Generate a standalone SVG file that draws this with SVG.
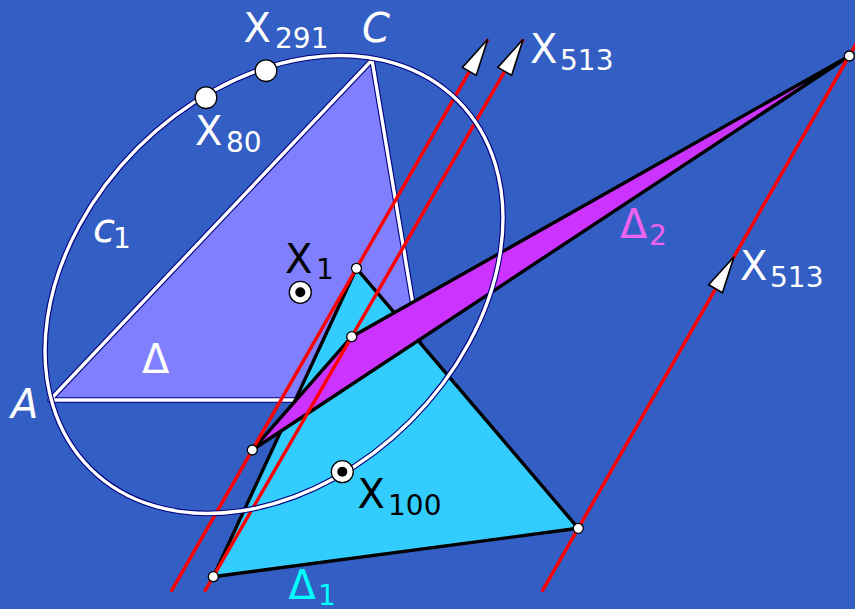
<svg xmlns="http://www.w3.org/2000/svg" width="855" height="609" viewBox="0 0 855 609">
<defs>
<style>
text{font-family:"DejaVu Sans","Liberation Sans",sans-serif;font-size:40px;fill:#fff}
.sub{font-size:28px}
.it{font-style:italic}
.dark{fill:#000}
.mag{fill:#f062f0}
.cyan{fill:#00ffff}
.navy{fill:none;stroke:#000080;stroke-width:5.6;stroke-linejoin:round}
.white{fill:none;stroke:#fff;stroke-width:3.4;stroke-linejoin:round}
.blk{stroke:#000;stroke-width:3.4;stroke-linejoin:round}
.red{stroke:#ff0000;stroke-width:3.4;fill:none}
.pt{fill:#fff;stroke:#000;stroke-width:1.3}
.ctr{fill:#000}
.arrow{fill:#fff;stroke:#000;stroke-width:1.6;stroke-linejoin:miter}
</style>
<path id="ah" d="M0,0 L-37,-8 L-37,8 Z"/>
</defs>
<rect width="855" height="609" fill="#335ec3"/>

<g id="triangle-delta">
<polygon points="50,400 372,60 429,400" fill="#8080ff" stroke="none"/>
<polygon class="navy" points="50,400 372,60 429,400"/>
<polygon class="white" points="50,400 372,60 429,400"/>
</g>

<g id="triangle-delta1">
<polygon class="blk" points="356.5,268.3 213.3,576.7 578.3,528.3" fill="#33ccff"/>
</g>

<g id="triangle-delta2">
<polygon class="blk" points="252.3,450 351.7,336.7 849.3,56" fill="#cc33ff"/>
</g>

<g id="connectors">
<line class="red" x1="171" y1="591.7" x2="487.8" y2="39.3"/>
<line class="red" x1="204.6" y1="591.7" x2="523.2" y2="39.3"/>
<line class="red" x1="541.9" y1="591.7" x2="860" y2="37"/>
<use href="#ah" class="arrow" transform="translate(487.8,39.3) rotate(-60.1)"/>
<use href="#ah" class="arrow" transform="translate(523.2,39.3) rotate(-60.1)"/>
<use href="#ah" class="arrow" transform="translate(734,256.7) rotate(-60.1)"/>
</g>

<g id="ellipse-c1">
<ellipse class="navy" cx="274" cy="284.5" rx="260" ry="193" transform="rotate(-45 274 284.5)"/>
<ellipse class="white" cx="274" cy="284.5" rx="260" ry="193" transform="rotate(-45 274 284.5)"/>
</g>

<g id="points">
<circle class="pt" cx="356.5" cy="268.3" r="5"/>
<circle class="pt" cx="252.3" cy="450" r="5"/>
<circle class="pt" cx="351.7" cy="336.7" r="5"/>
<circle class="pt" cx="213.3" cy="576.7" r="5"/>
<circle class="pt" cx="578.3" cy="528.3" r="5"/>
<circle class="pt" cx="849.3" cy="56" r="5"/>
</g>
<g id="point-X80"><circle class="pt" cx="206" cy="97.7" r="10.8"/></g>
<g id="point-X291"><circle class="pt" cx="266" cy="70.7" r="10.8"/></g>
<g id="point-X1"><circle class="pt" cx="300.3" cy="292.3" r="11"/><circle class="ctr" cx="300.3" cy="292.3" r="5"/></g>
<g id="point-X100"><circle class="pt" cx="342.3" cy="471.7" r="11"/><circle class="ctr" cx="342.3" cy="471.7" r="5"/></g>

<g id="labels">
<text x="243.5" y="42">X<tspan class="sub" x="275" y="48">291</tspan></text>
<text class="it" x="362" y="42">C</text>
<text x="195" y="145">X<tspan class="sub" x="226" y="151.7">80</tspan></text>
<text x="530" y="63.3">X<tspan class="sub" x="560" y="70">513</tspan></text>
<text x="740" y="280">X<tspan class="sub" x="770" y="286.7">513</tspan></text>
<text class="mag" x="620" y="238.3">Δ<tspan class="sub" x="649" y="245">2</tspan></text>
<text class="it" x="93" y="241.7">c<tspan class="sub" style="font-style:normal" x="113" y="248.3">1</tspan></text>
<text x="142" y="372.7">Δ</text>
<text class="it" x="11" y="418.3">A</text>
<text class="dark" x="285" y="272.7">X<tspan class="sub" x="316" y="279.3">1</tspan></text>
<text class="dark" x="357.5" y="508.3">X<tspan class="sub" x="388" y="515">100</tspan></text>
<text class="cyan" x="288.5" y="599">Δ<tspan class="sub" x="318" y="605">1</tspan></text>
</g>
</svg>
